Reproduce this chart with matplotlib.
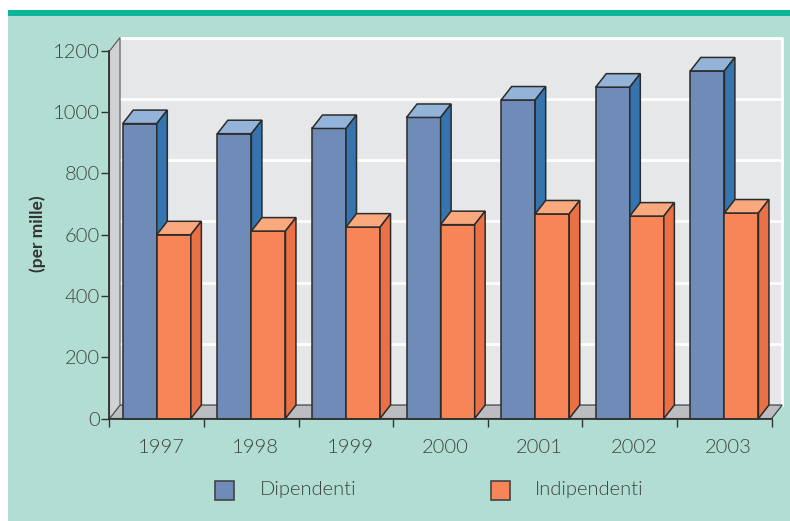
import matplotlib
matplotlib.use("Agg")
import matplotlib.pyplot as plt
from matplotlib.patches import Rectangle

years = ["1997", "1998", "1999", "2000", "2001", "2002", "2003"]
dipendenti = [963, 930, 947, 983, 1040, 1082, 1135]
indipendenti = [600, 612, 625, 633, 668, 661, 671]
y_ticks = [0, 200, 400, 600, 800, 1000, 1200]

W, H = 790, 521
DX = 10.5 / 94.6  # 3d depth, in category units
DY = 44           # 3d depth, in value units
OFFSET = 0.14
BAR_W = 0.36
EDGE = "#2b2b2b"
TEXT = "#3f4343"
FONT = "Lato"
LIGHT = 300


def bar3d(ax, x, value, w, front, top, side):
    ax.bar(x, value, w, align="edge", color=front, edgecolor=EDGE, linewidth=1.1, zorder=5, clip_on=False)
    ax.fill([x, x + DX, x + w + DX, x + w], [value, value + DY, value + DY, value],
            facecolor=top, edgecolor=EDGE, linewidth=1.1, zorder=5, clip_on=False)
    ax.fill([x + w, x + w + DX, x + w + DX, x + w], [0, DY, value + DY, value],
            facecolor=side, edgecolor=EDGE, linewidth=1.1, zorder=5, clip_on=False)


fig = plt.figure(figsize=(W / 100, H / 100), dpi=100, facecolor="white")

# page background and top stripe
fig.add_artist(Rectangle((8 / W, 0), 782 / W, 1 - 10 / H, transform=fig.transFigure, facecolor="#B2DDD3", edgecolor="none", zorder=-2))
fig.add_artist(Rectangle((8 / W, 1 - 16 / H), 782 / W, 6 / H, transform=fig.transFigure, facecolor="#0CB598", edgecolor="none", zorder=-1))

ax = fig.add_axes([109.5 / W, (H - 418.5) / H, 662.2 / W, 367.5 / H])
ax.patch.set_visible(False)
ax.set_xlim(0, 7)
ax.set_ylim(0, 1200)

# back wall, floor, side wall
top = 1200 + DY
ax.fill([DX, 7 + DX, 7 + DX, DX], [DY, DY, top, top], facecolor="#E6E7E9", edgecolor="none", zorder=1, clip_on=False)
ax.plot([DX, 7 + DX, 7 + DX], [top, top, DY], color="white", linewidth=2, zorder=2, clip_on=False)
for v in y_ticks[1:-1]:
    ax.plot([DX, 7 + DX], [v + DY, v + DY], color="white", linewidth=2, zorder=2, clip_on=False)
ax.fill([0, 7, 7 + DX, DX], [0, 0, DY, DY], facecolor="#BCBDC0", edgecolor="#333333", linewidth=0.8, zorder=2, clip_on=False)
ax.fill([0, DX, DX, 0], [0, DY, top, 1200], facecolor="#D1D2D4", edgecolor="#555555", linewidth=0.8, zorder=2, clip_on=False)

for i in range(len(years)):
    bar3d(ax, i + OFFSET, dipendenti[i], BAR_W, "#6F8CB8", "#94B3D8", "#3574AE")
    bar3d(ax, i + OFFSET + BAR_W, indipendenti[i], BAR_W, "#F78557", "#FAA87E", "#EA7145")

for s in ["top", "right"]:
    ax.spines[s].set_visible(False)
for s in ["left", "bottom"]:
    ax.spines[s].set_color("#333333")
    ax.spines[s].set_linewidth(1.3)
    ax.spines[s].set_zorder(6)

ax.set_yticks(y_ticks)
ax.set_yticklabels(y_ticks, family=FONT, fontweight=LIGHT, fontsize=14.5, color=TEXT)
ax.set_yticks(range(0, 1201, 50), minor=True)
ax.tick_params(axis="y", which="major", length=5.8, width=1, color="#333333", pad=1)
ax.tick_params(axis="y", which="minor", length=2, width=0.5, direction="in", color="#777777")

ax.set_xticks(range(8))
ax.set_xticklabels([])
ax.set_xticks([i + 0.545 for i in range(7)], minor=True)
ax.set_xticklabels(years, minor=True, family=FONT, fontweight=LIGHT, fontsize=14.5, color=TEXT)
ax.tick_params(axis="x", which="major", length=5.8, width=1, color="#333333")
ax.tick_params(axis="x", which="minor", length=0, pad=15)

fig.text(38 / W, 1 - 234 / H, "(per mille)", rotation=90, family=FONT, fontweight="bold", fontsize=12.5,
         color="#333333", ha="center", va="center")

# legend
for x0, color, label, xt in [(214.5, "#6F8CB8", "Dipendenti", 260), (490.5, "#F78557", "Indipendenti", 535)]:
    fig.add_artist(Rectangle((x0 / W, 1 - 500 / H), 19 / W, 19 / H, transform=fig.transFigure,
                             facecolor=color, edgecolor="#444444", linewidth=1.2))
    fig.text(xt / W, 1 - 490 / H, label, family=FONT, fontweight=LIGHT, fontsize=14.5, color=TEXT, ha="left", va="center")

plt.savefig("out.png", dpi=100)
